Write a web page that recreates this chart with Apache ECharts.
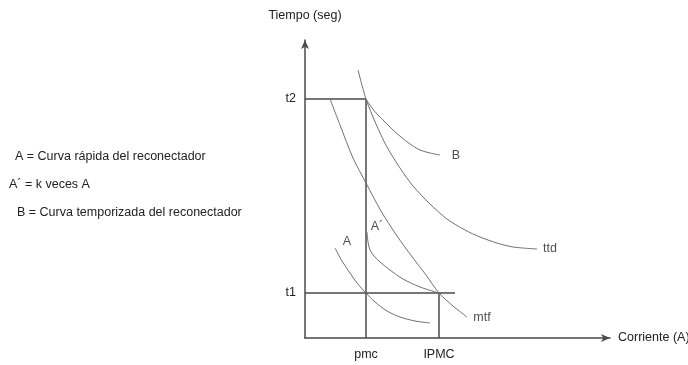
<!DOCTYPE html>
<html>
<head>
<meta charset="utf-8">
<script src="https://cdn.jsdelivr.net/npm/echarts@6/dist/echarts.min.js"></script>
<style>html,body{margin:0;padding:0;background:#fff}#c{width:688px;height:365px}</style>
</head>
<body>
<div id="c"></div>
<script>
// Schematic curves, [corriente, tiempo] in arbitrary units
var mtfCurve = [[25,239],[35,213],[48,180],[61,155],[76,127],[92,102],[108,80],[121,63],[134,45],[148,32],[162,21]];
var ttdCurve = [[53,268],[61,239],[71,214],[82,191],[95,170],[108,152],[125,134],[142,119],[160,108],[175,101],[192,95],[208,91],[232,89]];
var bCurve   = [[61,239],[67,230],[73,223],[80,216],[88,208],[96,201],[105,194],[115,188],[125,185],[135,183]];
var aCurve   = [[30,90],[37,77],[45,65],[52,55],[61,45],[70,36],[82,27],[95,21],[110,17],[125,15]];
var apCurve  = [[62,106],[63,96],[65,88],[69,82],[75,76],[85,68],[98,59],[115,51],[134,45]];

// Reference levels
var t2 = 239, t1 = 45, pmc = 61, ipmc = 134, t1End = 150;
var t2Line   = [[0,t2],[pmc,t2]];
var t1Line   = [[0,t1],[t1End,t1]];
var pmcLine  = [[pmc,0],[pmc,t2]];
var ipmcLine = [[ipmc,0],[ipmc,t1]];

// Tick labels
var yTickValues = [t1, t2];
var yTickNames = ['t1', 't2'];
var xTickValues = [pmc, ipmc];
var xTickNames = ['pmc', 'IPMC'];

// Curve labels [x, y, text]
var curveLabels = [[42,96,'A'],[72,111,'A´'],[151,182,'B'],[245,89,'ttd'],[177,20,'mtf']];

// Left notes
var notes = ['A = Curva rápida del reconectador','A´ = k veces A','B = Curva temporizada del reconectador'];

var FONT = 'Liberation Sans, Arial, sans-serif';
var FS = 12.5;
var curveStyle = {color:'#707070', width:1};
var refStyle = {color:'#4a4a4a', width:1.5};

function lineSeries(data, style){
  return {type:'line', data:data, smooth:0.3, showSymbol:false, symbol:'none',
          lineStyle:style, silent:true, z:3, animation:false};
}

var chart = echarts.init(document.getElementById('c'), null, {renderer:'canvas'});
chart.setOption({
  animation:false,
  backgroundColor:'#fff',
  grid:{left:305, top:40, width:305, height:298, outerBoundsMode:'none', containLabel:false},
  xAxis:{type:'value', min:0, max:305,
    name:'Corriente (A)', nameLocation:'end', nameGap:8,
    nameTextStyle:{color:'#222', fontSize:FS, fontFamily:FONT},
    axisLine:{show:true, symbol:['none','arrow'], symbolSize:[6,9], lineStyle:{color:'#4a4a4a', width:1.5}},
    axisTick:{show:false}, splitLine:{show:false},
    axisLabel:{customValues:xTickValues, margin:10, color:'#222', fontSize:FS, fontFamily:FONT,
      formatter:function(v){var i=xTickValues.indexOf(v);return i>=0?xTickNames[i]:'';}}
  },
  yAxis:{type:'value', min:0, max:298,
    name:'Tiempo (seg)', nameLocation:'end', nameGap:18,
    nameTextStyle:{color:'#222', fontSize:FS, fontFamily:FONT},
    axisLine:{show:true, symbol:['none','arrow'], symbolSize:[6,9], lineStyle:{color:'#4a4a4a', width:1.5}},
    axisTick:{show:false}, splitLine:{show:false},
    axisLabel:{customValues:yTickValues, margin:9, color:'#222', fontSize:FS, fontFamily:FONT,
      formatter:function(v){var i=yTickValues.indexOf(v);return i>=0?yTickNames[i]:'';}}
  },
  series:[
    {type:'line', data:t2Line, showSymbol:false, lineStyle:refStyle, silent:true},
    {type:'line', data:t1Line, showSymbol:false, lineStyle:refStyle, silent:true},
    {type:'line', data:pmcLine, showSymbol:false, lineStyle:refStyle, silent:true},
    {type:'line', data:ipmcLine, showSymbol:false, lineStyle:refStyle, silent:true},
    lineSeries(mtfCurve, curveStyle),
    lineSeries(ttdCurve, curveStyle),
    lineSeries(bCurve, curveStyle),
    lineSeries(aCurve, curveStyle),
    lineSeries(apCurve, curveStyle),
    {type:'scatter', symbolSize:0, silent:true,
      data:curveLabels.map(function(d){return {value:[d[0],d[1]], name:d[2]};}),
      label:{show:true, position:'inside', formatter:'{b}', color:'#222', fontSize:FS, fontFamily:FONT}}
  ],
  graphic:[
    {type:'text', left:15, top:150, style:{text:notes[0], fill:'#222', font:FS+'px '+FONT}},
    {type:'text', left:9, top:178, style:{text:notes[1], fill:'#222', font:FS+'px '+FONT}},
    {type:'text', left:17, top:206, style:{text:notes[2], fill:'#222', font:FS+'px '+FONT}}
  ]
});
</script>
</body>
</html>
